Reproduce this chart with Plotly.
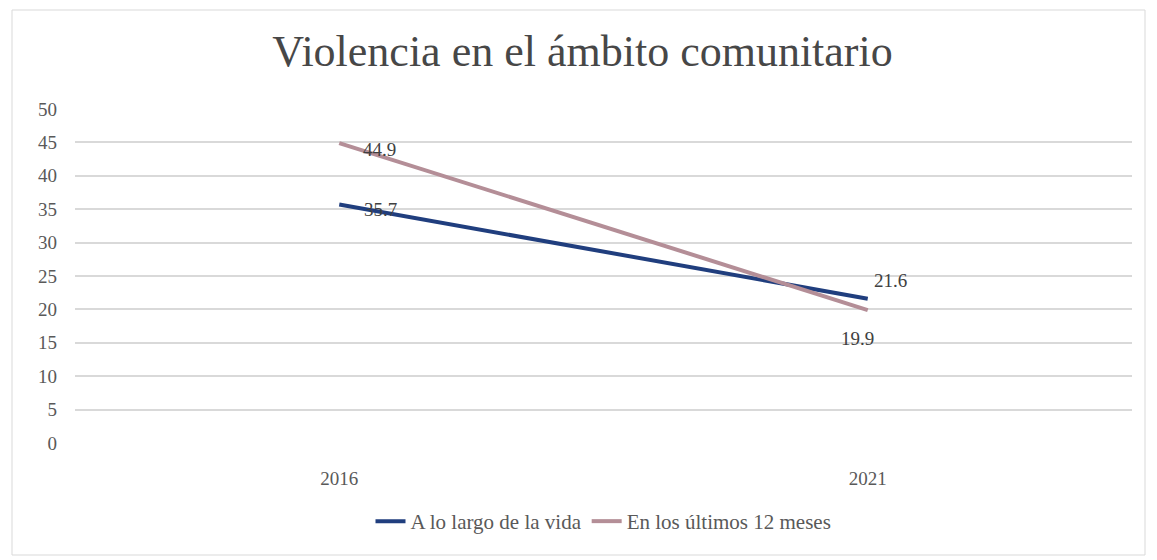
import plotly.graph_objects as go

years = ["2016", "2021"]
vida = [35.7, 21.6]
meses = [44.9, 19.9]
series_names = ["A lo largo de la vida", "En los últimos 12 meses"]
title_text = "Violencia en el ámbito comunitario"
ytick_vals = [0, 5, 10, 15, 20, 25, 30, 35, 40, 45, 50]

FONT = "Liberation Serif"
fig = go.Figure()
fig.add_trace(go.Scatter(
    x=years, y=vida, mode="lines", name=series_names[0],
    line=dict(color="#203e7e", width=4),
))
fig.add_trace(go.Scatter(
    x=years, y=meses, mode="lines", name=series_names[1],
    line=dict(color="#b48e97", width=4),
))

# data labels (offsets in pixels, values from the arrays)
label_offsets = {
    "vida": [(41, -5), (23, 18)],
    "meses": [(40, -6), (-10, -28)],
}
annotations = []
for key, vals in (("vida", vida), ("meses", meses)):
    for i, v in enumerate(vals):
        dx, dy = label_offsets[key][i]
        annotations.append(dict(x=i, y=v, xref="x", yref="y", text=str(v),
                                showarrow=False, xshift=dx, yshift=dy,
                                font=dict(family=FONT, size=19, color="#404040")))

fig.update_layout(
    width=1149, height=552,
    margin=dict(l=67, r=25, t=101, b=117),
    paper_bgcolor="white", plot_bgcolor="white",
    title=dict(text=title_text, x=0.5, xanchor="center", y=0.922, yanchor="middle",
               font=dict(family=FONT, size=44, color="#474747")),
    font=dict(family=FONT, color="#595959", size=18),
    xaxis=dict(type="category", range=[-0.5, 1.5], showgrid=False, showline=False,
               zeroline=False, ticks="", ticklabelstandoff=22,
               tickfont=dict(size=19, color="#595959")),
    yaxis=dict(range=[0, 50], tickvals=ytick_vals, showgrid=True, gridcolor="#d9d9d9",
               gridwidth=1.5, zeroline=False, showline=False, ticks="", ticklabelstandoff=17,
               tickfont=dict(size=19, color="#595959")),
    legend=dict(orientation="h", x=0.5, xanchor="center", y=-0.235, yanchor="middle",
                font=dict(family=FONT, size=21, color="#595959")),
    showlegend=True,
    annotations=annotations,
    shapes=[dict(type="rect", xref="paper", yref="paper",
                 x0=(12-75)/1057, x1=(1145-75)/1057, y0=(443-555)/334, y1=(443-10)/334,
                 line=dict(color="#d9d9d9", width=1), fillcolor="rgba(0,0,0,0)", layer="below")],
)
fig.write_html("out.html")
